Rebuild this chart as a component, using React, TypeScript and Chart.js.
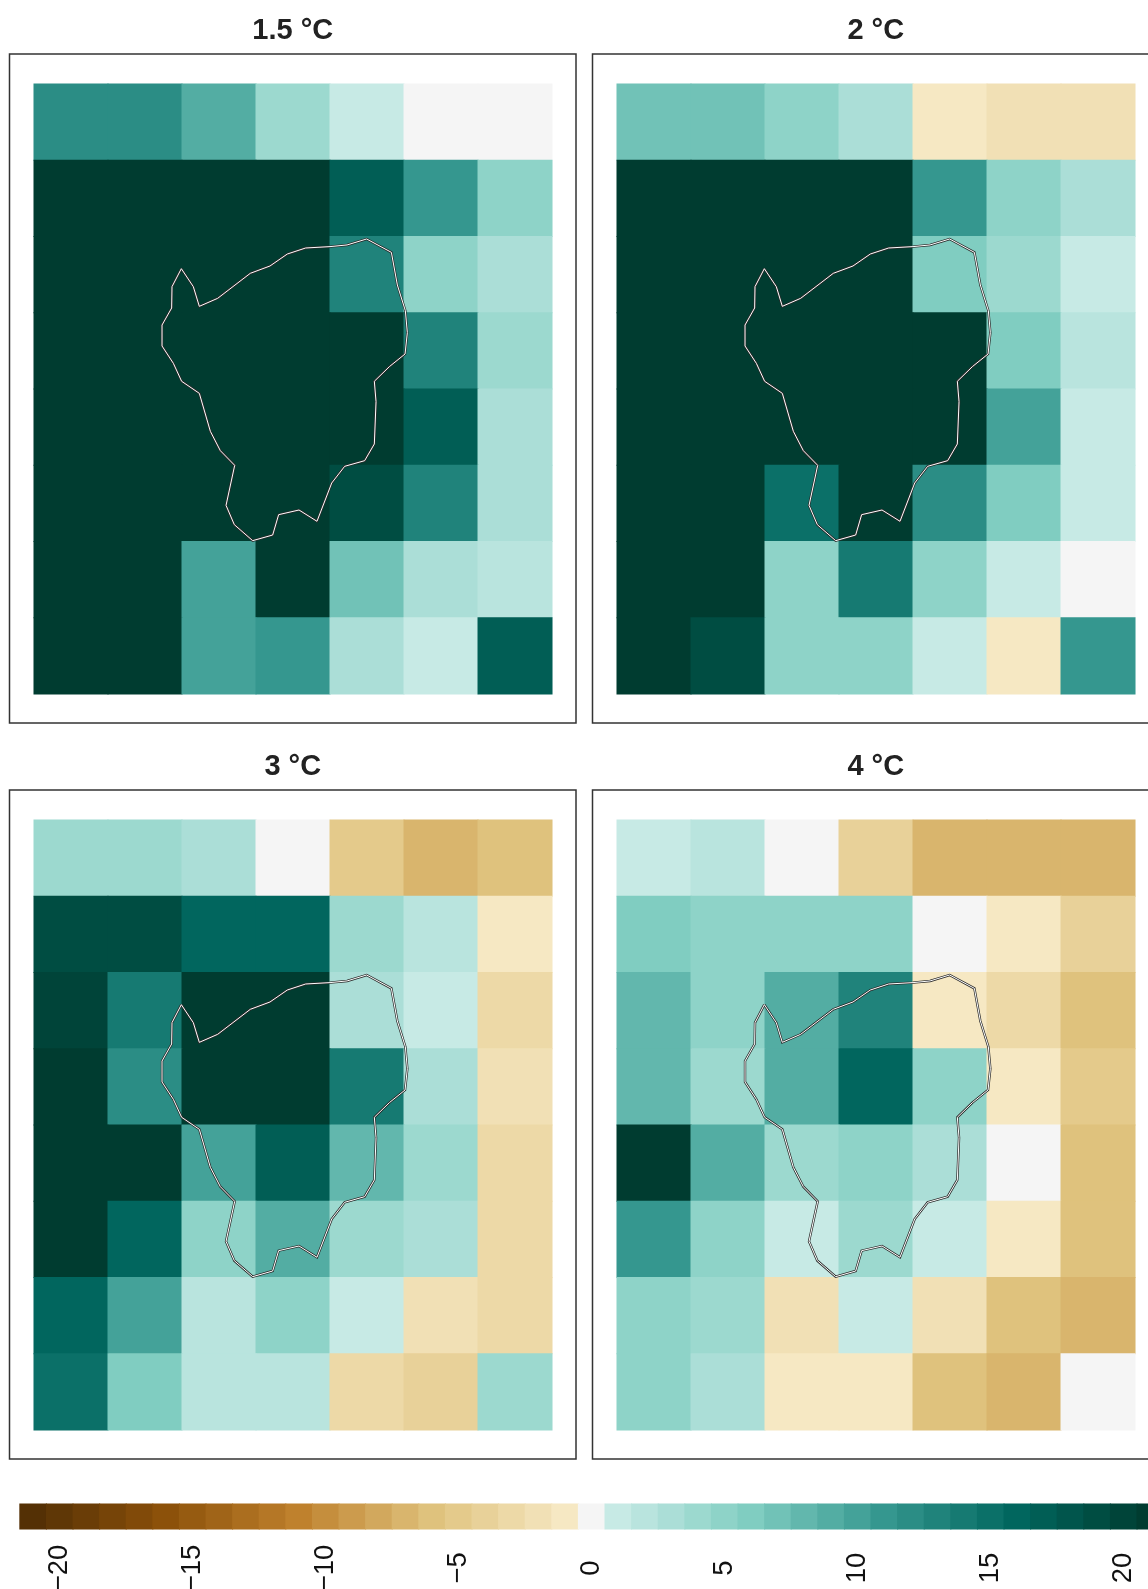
import React, { useEffect, useRef } from "react";
import Chart from "chart.js/auto";

// Grid cells, rows listed from top to bottom, anomaly classes (-21..21)
const titles = ["1.5 °C", "2 °C", "3 °C", "4 °C"];
const grid15 = [
  [12, 12, 9, 4, 1, 0, 0],
  [21, 21, 21, 21, 17, 11, 5],
  [21, 21, 21, 21, 13, 5, 3],
  [21, 21, 21, 21, 21, 13, 4],
  [21, 21, 21, 21, 21, 17, 3],
  [21, 21, 21, 21, 19, 13, 3],
  [21, 21, 10, 21, 7, 3, 2],
  [21, 21, 10, 11, 3, 1, 17],
];
const grid2 = [
  [7, 7, 5, 3, -1, -2, -2],
  [21, 21, 21, 21, 11, 5, 3],
  [21, 21, 21, 21, 6, 4, 1],
  [21, 21, 21, 21, 21, 6, 2],
  [21, 21, 21, 21, 21, 10, 1],
  [21, 21, 15, 21, 12, 6, 1],
  [21, 21, 5, 14, 5, 1, 0],
  [21, 19, 5, 5, 1, -1, 11],
];
const grid3 = [
  [4, 4, 3, 0, -5, -7, -6],
  [19, 19, 16, 16, 4, 2, -1],
  [20, 14, 21, 21, 3, 1, -3],
  [21, 12, 21, 21, 14, 3, -2],
  [21, 21, 10, 17, 8, 4, -3],
  [21, 16, 5, 9, 4, 3, -3],
  [16, 10, 2, 5, 1, -2, -3],
  [15, 6, 2, 2, -3, -4, 4],
];
const grid4 = [
  [1, 2, 0, -4, -7, -7, -7],
  [6, 5, 5, 5, 0, -1, -4],
  [8, 5, 9, 13, -1, -3, -6],
  [8, 4, 9, 16, 5, -1, -5],
  [21, 9, 4, 5, 3, 0, -6],
  [11, 5, 1, 4, 1, -1, -6],
  [5, 4, -2, 1, -2, -6, -7],
  [5, 3, -1, -1, -6, -7, 0],
];
const grids = [grid15, grid2, grid3, grid4];

// Basin outline in grid units (x from left, y from bottom)
const outlineX = [1.991, 2.153, 2.234, 2.482, 2.923, 3.189, 3.423, 3.671, 4.0, 4.23, 4.495, 4.829, 4.91, 5.018, 5.045, 5.014, 4.802, 4.599, 4.622, 4.599, 4.468, 4.198, 4.023, 3.824, 3.581, 3.306, 3.225, 2.955, 2.707, 2.595, 2.712, 2.518, 2.383, 2.234, 1.995, 1.883, 1.73, 1.73, 1.86, 1.865, 1.991];
const outlineY = [5.578, 5.342, 5.084, 5.189, 5.517, 5.613, 5.77, 5.849, 5.867, 5.889, 5.967, 5.792, 5.364, 5.027, 4.739, 4.459, 4.293, 4.101, 3.834, 3.279, 3.06, 2.986, 2.767, 2.265, 2.413, 2.352, 2.085, 2.011, 2.221, 2.474, 2.999, 3.191, 3.445, 3.943, 4.101, 4.337, 4.564, 4.839, 5.062, 5.342, 5.578];

// Colour bar
const legendClasses = [-21, -20, -19, -18, -17, -16, -15, -14, -13, -12, -11, -10, -9, -8, -7, -6, -5, -4, -3, -2, -1, 0, 1, 2, 3, 4, 5, 6, 7, 8, 9, 10, 11, 12, 13, 14, 15, 16, 17, 18, 19, 20, 21];
const legendTicks = [-20, -15, -10, -5, 0, 5, 10, 15, 20];

const tealStops = ["#c7eae5", "#80cdc1", "#35978f", "#01665e", "#003c30"];
const brownStops = ["#f6e8c3", "#dfc27d", "#bf812d", "#8c510a", "#543005"];

const FONT = "'Liberation Sans', Arial, sans-serif";

function hexRgb(h: string) {
  return [1, 3, 5].map((i) => parseInt(h.slice(i, i + 2), 16));
}
function colorFor(v: number) {
  if (v === 0) return "#f5f5f5";
  const stops = v > 0 ? tealStops : brownStops;
  const p = (Math.abs(v) - 1) / 5;
  const i = Math.min(Math.floor(p), stops.length - 2);
  const t = p - i;
  const a = hexRgb(stops[i]);
  const b = hexRgb(stops[i + 1]);
  const c = a.map((x, k) => Math.round(x + (b[k] - x) * t));
  return `rgb(${c[0]},${c[1]},${c[2]})`;
}

const framePlugin = {
  id: "frame",
  afterDraw(chart: any) {
    const { left, top, width, height } = chart.chartArea;
    const ctx = chart.ctx;
    ctx.save();
    ctx.strokeStyle = "#333333";
    ctx.lineWidth = 1.5;
    ctx.strokeRect(left, top, width, height);
    ctx.restore();
  },
};

const legendLabelPlugin = {
  id: "legendLabels",
  afterDraw(chart: any) {
    const ctx = chart.ctx;
    const scale = chart.scales.x;
    ctx.save();
    ctx.fillStyle = "#111111";
    ctx.font = `27.5px ${FONT}`;
    ctx.textAlign = "center";
    ctx.textBaseline = "middle";
    for (const t of scale.ticks) {
      ctx.save();
      ctx.translate(scale.getPixelForValue(t.value), 78);
      ctx.rotate(-Math.PI / 2);
      ctx.fillText(String(t.value).replace("-", "\u2212"), 0, 3);
      ctx.restore();
    }
    ctx.restore();
  },
};

function Panel({ idx, left, top }: { idx: number; left: number; top: number }) {
  const ref = useRef<HTMLCanvasElement>(null);
  useEffect(() => {
    const grid = grids[idx];
    const cells: any[] = [];
    const colors: string[] = [];
    grid.forEach((row, r) =>
      row.forEach((v, c) => {
        cells.push({ x: c + 0.5, y: [7 - r, 8 - r] });
        colors.push(colorFor(v));
      })
    );
    const outline = outlineX.map((x, i) => ({ x, y: outlineY[i] }));
    const chart = new Chart(ref.current!, {
      data: {
        datasets: [
          {
            type: "bar",
            data: cells,
            backgroundColor: colors,
            borderWidth: 0,
            barPercentage: 1,
            categoryPercentage: 1,
            inflateAmount: 0.5,
            order: 3,
          },
          {
            type: "line",
            data: outline,
            borderColor: "#2a2a2a",
            borderWidth: 2.4,
            pointRadius: 0,
            tension: 0,
            order: 2,
          },
          {
            type: "line",
            data: outline,
            borderColor: "#ffffff",
            borderWidth: 1,
            pointRadius: 0,
            tension: 0,
            order: 1,
          },
        ],
      } as any,
      options: {
        animation: false,
        responsive: false,
        layout: { padding: { left: 9.5, right: 8, top: 13.2, bottom: 13 } },
        plugins: {
          legend: { display: false },
          tooltip: { enabled: false },
          title: {
            display: true,
            text: titles[idx],
            fullSize: false,
            color: "#222222",
            font: { family: FONT, size: 29, weight: "bold" },
            padding: { top: 0, bottom: 6 },
          },
        },
        scales: {
          x: { type: "linear", display: false, offset: false, min: -0.331, max: 7.324 },
          y: { type: "linear", display: false, min: -0.38, max: 8.393 },
        },
      } as any,
      plugins: [framePlugin],
    });
    return () => chart.destroy();
  }, [idx]);
  return (
    <canvas
      ref={ref}
      width={584}
      height={736}
      style={{ position: "absolute", left, top, width: 584, height: 736 }}
    />
  );
}

function ColorBar() {
  const ref = useRef<HTMLCanvasElement>(null);
  useEffect(() => {
    const chart = new Chart(ref.current!, {
      data: {
        datasets: [
          {
            type: "bar",
            data: legendClasses.map((v) => ({ x: v + 0.14, y: [0, 1] })),
            backgroundColor: legendClasses.map(colorFor),
            borderWidth: 0,
            barPercentage: 1,
            categoryPercentage: 1,
            inflateAmount: 0.5,
          },
        ],
      } as any,
      options: {
        animation: false,
        responsive: false,
        layout: { padding: { left: 0, right: 0, top: 13.5, bottom: 59.5 } },
        plugins: { legend: { display: false }, tooltip: { enabled: false }, title: { display: false } },
        scales: {
          x: {
            type: "linear",
            display: false,
            offset: false,
            min: -22.105,
            max: 21.053,
            afterBuildTicks: (s: any) => {
              s.ticks = legendTicks.map((value) => ({ value }));
            },
          },
          y: { type: "linear", display: false, min: 0, max: 1 },
        },
      } as any,
      plugins: [legendLabelPlugin],
    });
    return () => chart.destroy();
  }, []);
  return (
    <canvas
      ref={ref}
      width={1148}
      height={99}
      style={{ position: "absolute", left: 0, top: 1490, width: 1148, height: 99 }}
    />
  );
}

export default function App() {
  return (
    <div
      style={{
        position: "absolute",
        left: 0,
        top: 0,
        width: 1148,
        height: 1589,
        overflow: "hidden",
        background: "#ffffff",
      }}
    >
      <Panel idx={0} left={0} top={0} />
      <Panel idx={1} left={582.5} top={0} />
      <Panel idx={2} left={0} top={736} />
      <Panel idx={3} left={582.5} top={736} />
      <ColorBar />
    </div>
  );
}
